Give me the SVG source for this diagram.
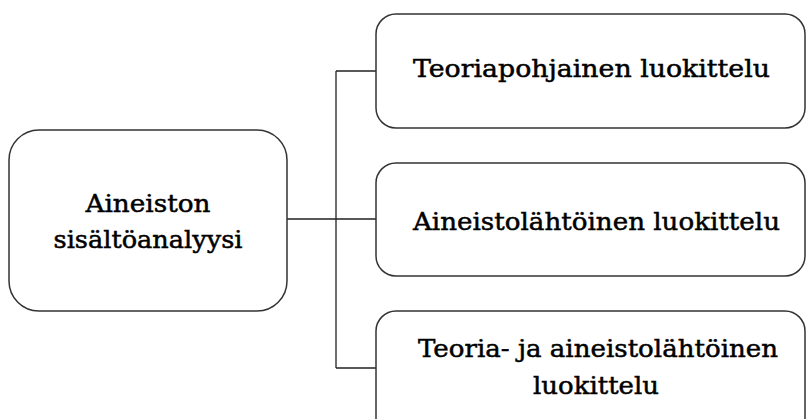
<svg xmlns="http://www.w3.org/2000/svg" width="807" height="419" viewBox="0 0 807 419">
<style>
.box{fill:#fff;stroke:#333;stroke-width:1.5}
.lbl{font-family:"DejaVu Serif","Liberation Serif",serif;font-size:25px;fill:#000;stroke:#000;stroke-width:0.5;text-anchor:middle}
.con{fill:none;stroke:#222;stroke-width:1.3}
</style>
<rect width="807" height="419" fill="#fff"/>
<g id="connectors">
<path class="con" d="M287 219H336M336 71V368M336 71H376M336 219H376M336 368H376"/>
</g>
<g id="root">
<rect class="box" x="9" y="130" width="278" height="181" rx="30"/>
<text class="lbl" x="148" y="212" textLength="125" lengthAdjust="spacingAndGlyphs">Aineiston</text>
<text class="lbl" x="148" y="248" textLength="189" lengthAdjust="spacingAndGlyphs">sisältöanalyysi</text>
</g>
<g id="teoriapohjainen">
<rect class="box" x="376" y="14" width="429" height="114" rx="20"/>
<text class="lbl" x="591.5" y="77" textLength="357" lengthAdjust="spacingAndGlyphs">Teoriapohjainen luokittelu</text>
</g>
<g id="aineistolahtoinen">
<rect class="box" x="376" y="163" width="429" height="113" rx="20"/>
<text class="lbl" x="596.5" y="230" textLength="367" lengthAdjust="spacingAndGlyphs">Aineistolähtöinen luokittelu</text>
</g>
<g id="teoria-ja-aineisto">
<rect class="box" x="376" y="311" width="429" height="130" rx="20"/>
<text class="lbl" x="598" y="357" textLength="360" lengthAdjust="spacingAndGlyphs">Teoria- ja aineistolähtöinen</text>
<text class="lbl" x="596" y="394" textLength="126" lengthAdjust="spacingAndGlyphs">luokittelu</text>
</g>
</svg>
